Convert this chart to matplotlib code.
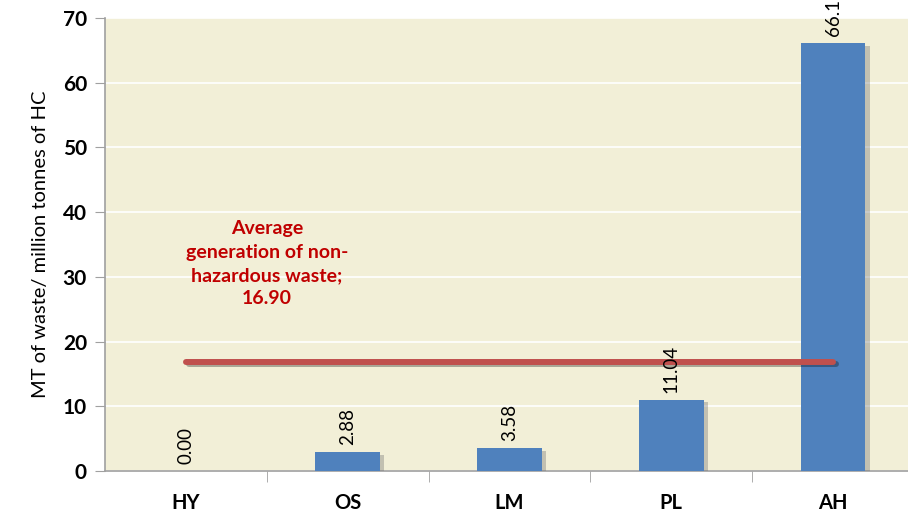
import matplotlib.pyplot as plt
import matplotlib.patheffects as pe

categories = ["HY", "OS", "LM", "PL", "AH"]
waste = [0.00, 2.88, 3.58, 11.04, 66.15]
average_waste = 16.90

bar_color = "#4F81BD"
line_color = "#C0504D"
text_red = "#C00000"
panel_color = "#F2EFD7"

plt.rcParams["font.family"] = ["Lato", "DejaVu Sans"]

fig = plt.figure(figsize=(9.08, 5.13), dpi=100)
ax = fig.add_axes([0.1156, 0.0819, 0.8910, 0.8830])
ax.set_facecolor(panel_color)

x = list(range(len(categories)))
shadow = [pe.SimplePatchShadow(offset=(3, -2), shadow_rgbFace="#6b6b6b", alpha=0.35), pe.Normal()]
bars = ax.bar(x, waste, width=0.4, color=bar_color, zorder=3, path_effects=shadow)

for xi, v in zip(x, waste):
    ax.annotate(f"{v:.2f}", (xi, v), xytext=(0, 5), textcoords="offset points",
                rotation=90, ha="center", va="bottom", fontsize=13.5, color="black",
                zorder=5, annotation_clip=False)

# average line across all categories
ax.plot([x[0], x[-1]], [average_waste, average_waste], color=line_color, lw=4.3,
        solid_capstyle="round", zorder=4,
        path_effects=[pe.SimpleLineShadow(offset=(2, -2), alpha=0.3), pe.Normal()])
ax.text(0.5, 32.0, f"Average\ngeneration of non-\nhazardous waste;\n{average_waste:.2f}",
        ha="center", va="center", color=text_red, fontsize=14, fontweight="bold",
        linespacing=1.45, zorder=5)

ax.set_xlim(-0.5, len(categories) - 0.5)
ax.set_ylim(0, 70)
ax.set_yticks(range(0, 71, 10))
ax.yaxis.grid(True, color="white", lw=1.2, zorder=0)
ax.set_axisbelow(True)

ax.set_xticks(x)
ax.set_xticklabels(categories, fontsize=14.5, fontweight="bold")
ax.set_xticks([i + 0.5 for i in x], minor=True)
ax.tick_params(axis="x", which="major", length=0, pad=16)
ax.tick_params(axis="x", which="minor", length=8, color="#A0A0A0")
ax.tick_params(axis="y", length=7, color="#A0A0A0", labelsize=15, pad=6)
for lbl in ax.get_yticklabels():
    lbl.set_fontweight("bold")

for side in ("top", "right"):
    ax.spines[side].set_visible(False)
for side in ("left", "bottom"):
    ax.spines[side].set_color("#A0A0A0")
    ax.spines[side].set_linewidth(1.2)

ax.set_ylabel("MT of waste/ million tonnes of HC", fontsize=14.5, labelpad=10)

fig.savefig("out.png", dpi=100)
